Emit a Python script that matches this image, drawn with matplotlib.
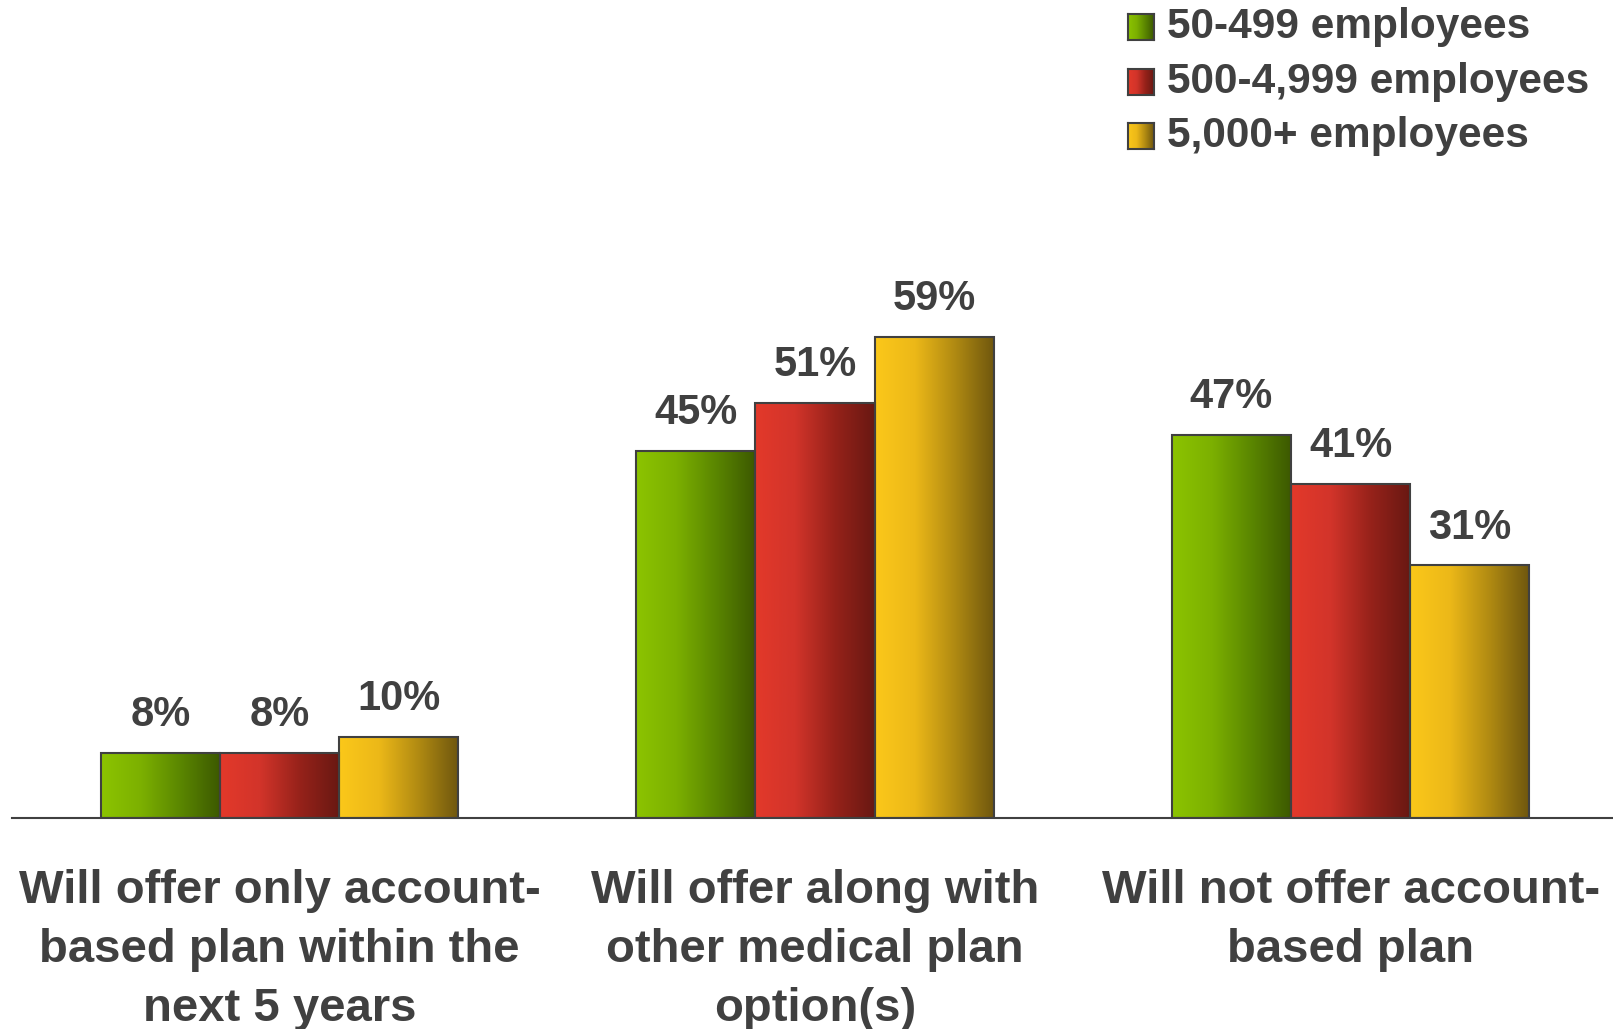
import numpy as np
import matplotlib
matplotlib.use('Agg')
import matplotlib.pyplot as plt
from matplotlib.colors import LinearSegmentedColormap

# data
categories = ['Will offer only account-\nbased plan within the\nnext 5 years',
              'Will offer along with\nother medical plan\noption(s)',
              'Will not offer account-\nbased plan']
series = ['50-499 employees', '500-4,999 employees', '5,000+ employees']
small = [8, 45, 47]
mid = [8, 51, 41]
large = [10, 59, 31]
values = [small, mid, large]

# light -> dark horizontal gradients
grad_colors = [
    ['#8cc400', '#7cb000', '#5a8600', '#3c5800'],
    ['#e3392a', '#d2342a', '#96221a', '#681812'],
    ['#fbc81a', '#ecb818', '#b08a12', '#6e560e'],
]
text_color = '#404040'

plt.rcParams['font.family'] = ['Liberation Sans', 'DejaVu Sans']

fig = plt.figure(figsize=(16.13, 10.29), dpi=100)
ax = fig.add_axes([0.0076, 0.205, 0.9924, 0.795])

x = np.arange(len(categories))
w = 0.2226
grad = np.linspace(0, 1, 256).reshape(1, -1)

for i, vals in enumerate(values):
    cmap = LinearSegmentedColormap.from_list('g%d' % i, grad_colors[i])
    bars = ax.bar(x + (i - 1) * w, vals, w, facecolor='none',
                  edgecolor=text_color, linewidth=1.5, zorder=3)
    for b, v in zip(bars, vals):
        bx, by = b.get_x(), b.get_y()
        im = ax.imshow(grad, cmap=cmap, aspect='auto', zorder=2,
                       extent=[bx, bx + b.get_width(), by, by + b.get_height()])
        im.set_clip_path(b)
        ax.text(bx + b.get_width() / 2, v + 2.2, '%d%%' % v, ha='center',
                va='bottom', fontsize=30, fontweight='bold', color=text_color)

ax.set_xlim(-0.499, 2.49)
ax.set_ylim(0, 100.4)
for s in ['top', 'right', 'left']:
    ax.spines[s].set_visible(False)
ax.spines['bottom'].set_color(text_color)
ax.spines['bottom'].set_linewidth(1.5)
ax.set_yticks([])
ax.set_xticks(x)
ax.set_xticklabels(categories, fontsize=34, fontweight='bold', color=text_color,
                   linespacing=1.43)
ax.tick_params(axis='x', length=0, pad=37)

# legend
fig_w, fig_h = 1613, 1029
for i, name in enumerate(series):
    cy = 27 + i * 54.5
    lax = fig.add_axes([1128 / fig_w, 1 - (cy + 13) / fig_h, 26 / fig_w, 26 / fig_h])
    cmap = LinearSegmentedColormap.from_list('l%d' % i, grad_colors[i])
    lax.imshow(grad, cmap=cmap, aspect='auto')
    lax.set_xticks([])
    lax.set_yticks([])
    for sp in lax.spines.values():
        sp.set_color(text_color)
        sp.set_linewidth(1.5)
    fig.text(1167 / fig_w, 1 - cy / fig_h, name, ha='left', va='center',
             fontsize=30.5, fontweight='bold', color=text_color)

fig.savefig('out.png', dpi=100)
